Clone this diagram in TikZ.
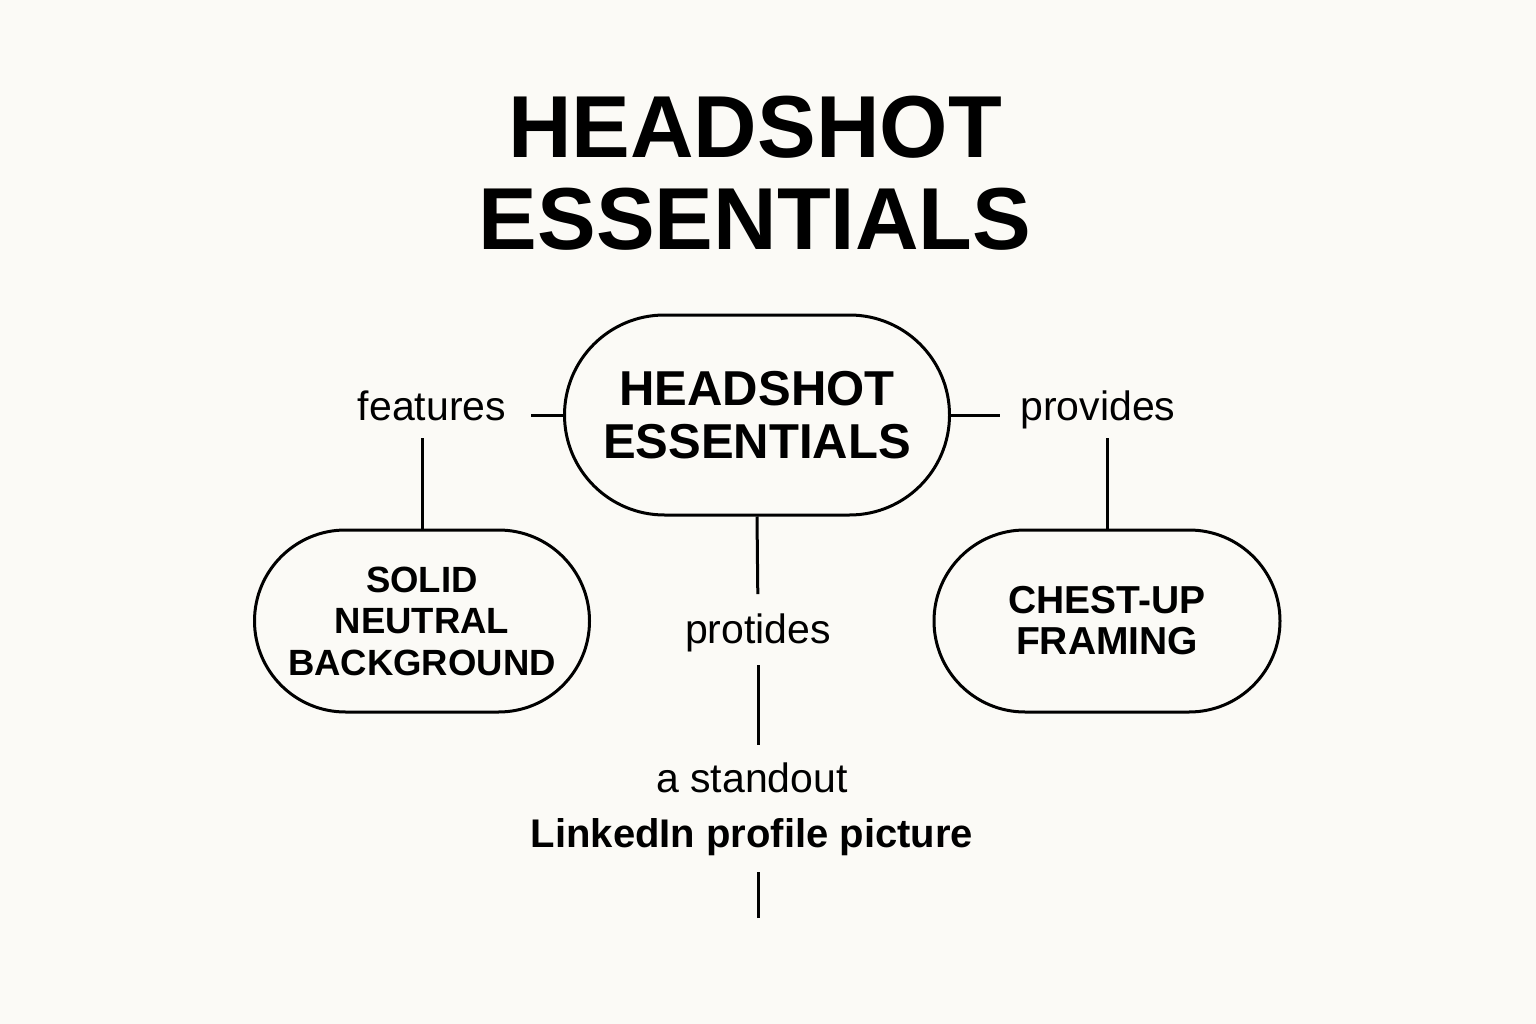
\documentclass[tikz,border=0pt]{standalone}
\usepackage{fontspec}
\setmainfont{Liberation Sans}
\usepackage{xcolor}
\usetikzlibrary{positioning}
\definecolor{paper}{HTML}{FBFAF6}

\begin{document}
\begin{tikzpicture}[
    x=1pt, y=-1pt, % pixel-like units, y runs downwards
    every node/.style={inner sep=0pt},
    pill/.style={draw, line width=3pt, rounded corners=91pt, align=center},
    lbl/.style={anchor=base, font=\fontsize{41}{45}\selectfont},
    link/.style={line width=3pt}
]
    % 0. Paper
    \fill[paper] (0,0) rectangle (1536,1024);
    \useasboundingbox (0,0) rectangle (1536,1024);

    % 1. Title
    \node[align=center, font=\fontsize{88}{92}\selectfont\bfseries] (T) at (755,173) {HEADSHOT\\ESSENTIALS};

    % 2. The three pills
    \node[pill, minimum width=385pt, minimum height=200pt, rounded corners=100pt,
          font=\fontsize{49}{53}\selectfont\bfseries] (C) at (757,415) {HEADSHOT\\ESSENTIALS};
    \node[pill, minimum width=335pt, minimum height=182pt,
          font=\fontsize{36.5}{41.5}\selectfont\bfseries] (L) at (422,621) {SOLID\\NEUTRAL\\BACKGROUND};
    \node[pill, minimum width=346pt, minimum height=182pt,
          font=\fontsize{39}{41}\selectfont\bfseries] (R) at (1107,621) {CHEST-UP\\FRAMING};

    % 3. Link labels
    \node[lbl] (F) at (432,420) {features};
    \node[lbl] (P) at (1098,420) {provides};
    \node[lbl] (M) at (758,643) {protides};
    \node[lbl] (S) at (752,792) {a standout};
    \node[lbl, font=\fontsize{40}{44}\selectfont\bfseries] (LI) at (752,847) {LinkedIn profile picture};
    \coordinate (E) at (758,918);

    % 4. Connectors
    \draw[link, shorten >=25pt] (C.west) -- (F.east |- C.west);
    \draw[link, shorten >=18pt] (L.north) -- (L.north |- F.base);
    \draw[link, shorten >=20pt] (C.east) -- (P.west |- C.east);
    \draw[link, shorten >=18pt] (R.north) -- (R.north |- P.base);
    \draw[link, shorten >=19pt] (C.south) -- (M.north);
    \draw[link, shorten <=22pt, shorten >=17pt] (M.base) -- (M.base |- S.north);
    \draw[link, shorten >=25pt] (E) -- (E |- LI.base);
\end{tikzpicture}
\end{document}
